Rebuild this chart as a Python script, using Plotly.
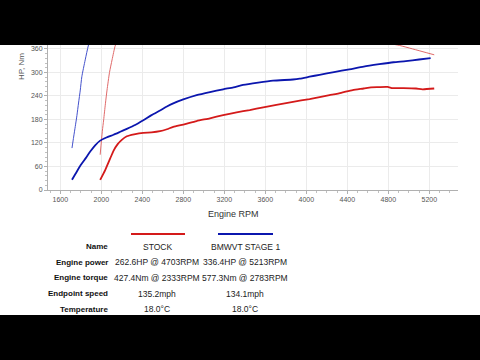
import plotly.graph_objects as go

# ---------------- data ----------------
stock_power_rpm = [1989, 2038, 2086, 2119, 2160, 2200, 2249, 2320, 2410, 2490, 2573, 2640, 2702, 2800,
                   2930, 3060, 3189, 3320, 3448, 3580, 3708, 3870, 4032, 4130, 4226, 4340, 4453, 4560,
                   4631, 4703, 4793, 4843, 4950, 5070, 5134, 5248]
stock_power_hp = [26, 51, 80, 100, 117, 128, 137, 142, 146, 147, 150, 155, 161, 167,
                  176, 183, 191, 198, 204, 211, 217, 225, 232, 237, 242, 248, 255, 259,
                  262, 262.6, 263, 260, 260, 259, 257, 259]

stock_torque_rpm = [1989, 2010, 2023, 2040, 2056, 2080, 2105, 2138, 2200, 2333, 2600, 3000,
                    3500, 4000, 4500, 4750, 4907, 5037, 5248]
stock_torque_nm = [90, 150, 179, 220, 255, 300, 332, 370, 405, 427.4, 422, 415,
                   405, 395, 382, 376, 369, 360, 345]

stage1_power_rpm = [1714, 1750, 1795, 1850, 1892, 1940, 1989, 2050, 2119, 2180, 2249, 2330, 2410,
                    2490, 2573, 2640, 2702, 2800, 2930, 3060, 3189, 3290, 3383, 3530, 3675, 3870,
                    3935, 4032, 4129, 4270, 4420, 4560, 4712, 4850, 4971, 5100, 5213]
stage1_power_hp = [26, 42, 62, 82, 98, 114, 126, 134, 141, 148, 156, 166, 178,
                   191, 203, 213, 221, 231, 242, 250, 257, 262, 268, 274, 279, 282,
                   284, 289, 294, 301, 308, 315, 321, 326, 329, 333, 336.4]

stage1_torque_rpm = [1714, 1730, 1746, 1762, 1778, 1795, 1810, 1843, 1875, 1950, 2100, 2400,
                     2783, 3200, 3800, 4400, 4800, 5213]
stage1_torque_nm = [107, 135, 162, 190, 222, 255, 289, 332, 370, 430, 500, 555,
                    577.3, 570, 545, 520, 500, 470]

x_ticks = [1600, 2000, 2400, 2800, 3200, 3600, 4000, 4400, 4800, 5200]
y_ticks = [0, 60, 120, 180, 240, 300, 360]

row_labels = ["Name", "Engine power", "Engine torque", "Endpoint speed", "Temperature"]
stock_values = ["STOCK", "262.6HP @ 4703RPM", "427.4Nm @ 2333RPM", "135.2mph", "18.0°C"]
stage1_values = ["BMWVT STAGE 1", "336.4HP @ 5213RPM", "577.3Nm @ 2783RPM", "134.1mph", "18.0°C"]

# ---------------- layout geometry (pixels) ----------------
W, H = 480, 360
L, R, T, B = 48, 22, 45, 170
PW, PH = W - L - R, H - T - B


def px(x):
    return (x - L) / PW


def py(y):
    return (H - B - y) / PH


RED = "#d41a1a"
BLUE = "#0b16ae"

fig = go.Figure()
fig.add_trace(go.Scatter(x=stock_torque_rpm, y=stock_torque_nm, mode="lines",
                         line=dict(color="#e06a6a", width=1, shape="spline", smoothing=0.6),
                         hoverinfo="skip"))
fig.add_trace(go.Scatter(x=stage1_torque_rpm, y=stage1_torque_nm, mode="lines",
                         line=dict(color="#4452cc", width=1, shape="spline", smoothing=0.6),
                         hoverinfo="skip"))
fig.add_trace(go.Scatter(x=stock_power_rpm, y=stock_power_hp, mode="lines",
                         line=dict(color=RED, width=1.8, shape="spline", smoothing=0.6),
                         hoverinfo="skip"))
fig.add_trace(go.Scatter(x=stage1_power_rpm, y=stage1_power_hp, mode="lines",
                         line=dict(color=BLUE, width=1.8, shape="spline", smoothing=0.6),
                         hoverinfo="skip"))

tickfont = dict(family="Liberation Sans, Arial, sans-serif", size=7, color="#555555")

fig.update_xaxes(range=[1480, 5480], tickvals=x_ticks, ticktext=[str(v) for v in x_ticks],
                 showgrid=True, gridcolor="#ebebeb", gridwidth=1, zeroline=False,
                 showline=True, linecolor="#b0b0b0", linewidth=1,
                 ticks="outside", ticklen=3, tickcolor="#b0b0b0", tickfont=tickfont,
                 minor=dict(dtick=100, tick0=1500, ticks="outside", ticklen=2, tickcolor="#c0c0c0",
                            showgrid=False),
                 fixedrange=True)
fig.update_yaxes(range=[0, 370], tickvals=y_ticks, ticktext=[str(v) for v in y_ticks],
                 showgrid=True, gridcolor="#ebebeb", gridwidth=1, zeroline=False,
                 showline=True, linecolor="#b0b0b0", linewidth=1,
                 ticks="outside", ticklen=3, tickcolor="#b0b0b0", tickfont=tickfont,
                 minor=dict(dtick=12, ticks="outside", ticklen=2, tickcolor="#c0c0c0", showgrid=False),
                 fixedrange=True)

annotations = []
annotations.append(dict(x=px(233.5), y=py(214), xref="paper", yref="paper", text="Engine RPM",
                        showarrow=False, xanchor="center", yanchor="middle",
                        font=dict(family="Liberation Sans, Arial, sans-serif", size=9, color="#333333")))
annotations.append(dict(x=px(21), y=py(67), xref="paper", yref="paper", text="HP, Nm", textangle=-90,
                        showarrow=False, xanchor="center", yanchor="middle",
                        font=dict(family="Liberation Sans, Arial, sans-serif", size=8, color="#555555")))

row_y = [246.5, 262, 277.7, 293.5, 309]
for lab, s, b, yy in zip(row_labels, stock_values, stage1_values, row_y):
    annotations.append(dict(x=px(110), y=py(yy), xref="paper", yref="paper", text="<b>%s</b>" % lab,
                            showarrow=False, xanchor="right", yanchor="middle",
                            font=dict(family="Liberation Sans, Arial, sans-serif", size=8, color="#111111")))
    annotations.append(dict(x=px(157), y=py(yy), xref="paper", yref="paper", text=s,
                            showarrow=False, xanchor="center", yanchor="middle",
                            font=dict(family="Liberation Sans, Arial, sans-serif", size=8.5, color="#222222")))
    annotations.append(dict(x=px(245), y=py(yy), xref="paper", yref="paper", text=b,
                            showarrow=False, xanchor="center", yanchor="middle",
                            font=dict(family="Liberation Sans, Arial, sans-serif", size=8.5, color="#222222")))

shapes = [
    dict(type="line", xref="paper", yref="paper", x0=px(131), x1=px(185), y0=py(234), y1=py(234),
         line=dict(color=RED, width=2)),
    dict(type="line", xref="paper", yref="paper", x0=px(218), x1=px(273), y0=py(234), y1=py(234),
         line=dict(color=BLUE, width=2)),
    # letterbox bars
    dict(type="rect", xref="paper", yref="paper", x0=px(-5), x1=px(W + 5), y0=py(T), y1=py(-5),
         fillcolor="black", line=dict(width=0), layer="above"),
    dict(type="rect", xref="paper", yref="paper", x0=px(-5), x1=px(W + 5), y0=py(H + 5), y1=py(315),
         fillcolor="black", line=dict(width=0), layer="above"),
]

fig.update_layout(width=W, height=H, margin=dict(l=L, r=R, t=T, b=B, pad=0),
                  paper_bgcolor="white", plot_bgcolor="white", showlegend=False,
                  annotations=annotations, shapes=shapes)

fig.write_html("out.html", config={"displayModeBar": False},
               post_script="document.body.style.margin='0';document.body.style.overflow='hidden';")
